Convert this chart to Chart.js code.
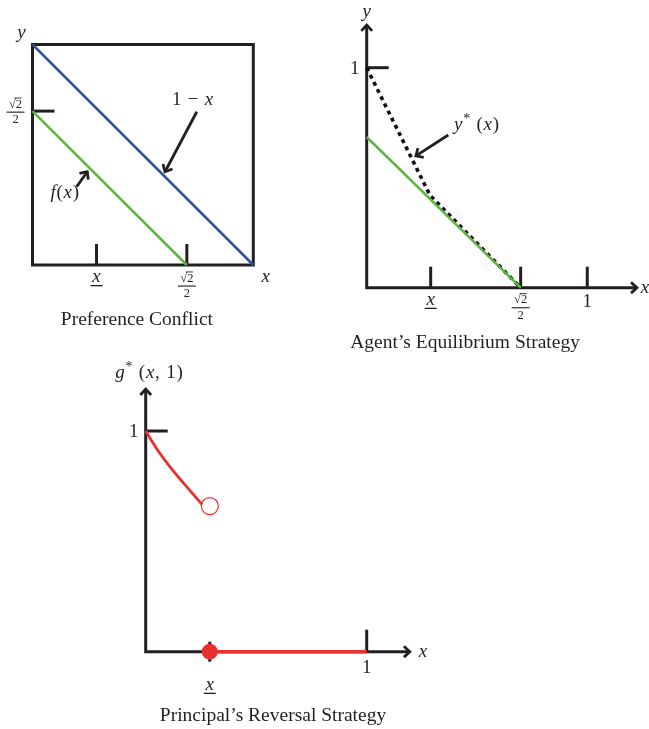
<!DOCTYPE html>
<html>
<head>
<meta charset="utf-8">
<script src="https://cdn.jsdelivr.net/npm/chart.js@4.4.1/dist/chart.umd.min.js"></script>
<style>
  body { margin: 0; background: #fff; }
  .wrap { position: relative; width: 649px; height: 729px; }
  .wrap canvas { position: absolute; left: 0; top: 0; }
</style>
</head>
<body>
<div class="wrap">
  <canvas id="conflict" width="649" height="729"></canvas>
  <canvas id="agent" width="649" height="729"></canvas>
  <canvas id="reversal" width="649" height="729"></canvas>
</div>
<script>
// Preference Conflict
const conflictX = [0, 1];
const oneMinusX = [1, 0];
const prefFX = [0, 0.699];
const prefFY = [0.698, 0];
const conflictTicksX = [0.29, 0.699];
const conflictTickLabelsX = ['_x', '√2/2'];
const conflictTicksY = [0.698];
const conflictTickLabelsY = ['√2/2'];

// Agent's Equilibrium Strategy
const agentFX = [0, 0.698];
const agentFY = [0.685, 0];
const agentStarX = [0, 0.287, 0.698];
const agentStarY = [1, 0.42, 0];
const agentTicksX = [0.29, 0.698, 1];
const agentTickLabelsX = ['_x', '√2/2', '1'];
const agentTicksY = [1];
const agentTickLabelsY = ['1'];

// Principal's Reversal Strategy
const reversalX = [0, 0.055, 0.11, 0.185, 0.255];
const reversalY = [1, 0.912, 0.838, 0.748, 0.667];
const reversalOpenX = [0.29];
const reversalOpenY = [0.66];
const reversalLowX = [0.29, 1];
const reversalLowY = [0, 0];
const reversalTicksX = [0.29, 1];
const reversalTickLabelsX = ['_x', '1'];
const reversalTicksY = [1];
const reversalTickLabelsY = ['1'];

const SERIF = '"Liberation Serif", "DejaVu Serif", serif';
const INK = '#231f20';
const BLUE = '#33509e';
const GREEN = '#5cb543';
const RED = '#e8312e';

const pts = (xs, ys) => xs.map((x, i) => ({x, y: ys[i]}));

// letters in italic, ^c as superscript, everything else upright
function mathText(ctx, str, cx, cy, size) {
  const gap = size * 0.04;
  const parts = [];
  for (let i = 0; i < str.length; i++) {
    const c = str[i];
    if (c === '^') { parts.push({t: str[++i], sup: true}); continue; }
    parts.push({t: c, it: /[a-z]/.test(c)});
  }
  const fontOf = p => (p.it ? 'italic ' : '') + (p.sup ? Math.round(size * 0.72) : size) + 'px ' + SERIF;
  let w = 0;
  parts.forEach(p => { ctx.font = fontOf(p); p.w = ctx.measureText(p.t).width; w += p.w; });
  w += gap * (parts.length - 1);
  let x = cx - w / 2;
  ctx.textAlign = 'left';
  ctx.textBaseline = 'middle';
  parts.forEach(p => {
    ctx.font = fontOf(p);
    ctx.fillText(p.t, x, p.sup ? cy - size * 0.3 : cy);
    x += p.w + gap;
  });
}

function tickLabel(ctx, lab, cx, cy) {
  ctx.fillStyle = INK;
  if (lab === '_x') {
    mathText(ctx, 'x', cx, cy, 19);
    ctx.fillRect(cx - 6, cy + 8, 12, 1.3);
  } else if (lab === '√2/2') {
    ctx.font = '12.5px ' + SERIF;
    ctx.textAlign = 'center';
    ctx.textBaseline = 'middle';
    ctx.fillText('√2', cx, cy - 7.5);
    ctx.fillRect(cx - 1, cy - 14.5, 7, 0.9);
    ctx.fillRect(cx - 9, cy - 0.5, 18, 1.1);
    ctx.fillText('2', cx, cy + 8);
  } else {
    mathText(ctx, lab, cx, cy, 19);
  }
}

function arrowHead(ctx, x, y, ang, len) {
  ctx.beginPath();
  ctx.moveTo(x + len * Math.cos(ang + 2.4), y + len * Math.sin(ang + 2.4));
  ctx.lineTo(x, y);
  ctx.lineTo(x + len * Math.cos(ang - 2.4), y + len * Math.sin(ang - 2.4));
  ctx.stroke();
}

// frame, axes, ticks underneath the curves; text and pointers on top
const sketch = {
  id: 'sketch',
  beforeDatasetsDraw(chart, args, o) {
    const {ctx} = chart;
    const xs = chart.scales.x, ys = chart.scales.y;
    const X = v => xs.getPixelForValue(v), Y = v => ys.getPixelForValue(v);
    ctx.save();
    ctx.strokeStyle = INK;
    ctx.lineWidth = 3;
    ctx.lineJoin = 'miter';
    if (o.box) {
      ctx.strokeRect(X(0), Y(1), X(1) - X(0), Y(0) - Y(1));
    } else {
      ctx.beginPath();
      ctx.moveTo(X(0), Y(ys.max) + 1);
      ctx.lineTo(X(0), Y(0));
      ctx.lineTo(X(xs.max) - 1, Y(0));
      ctx.stroke();
      ctx.lineWidth = 2.8;
      arrowHead(ctx, X(xs.max), Y(0), 0, 8);
      arrowHead(ctx, X(0), Y(ys.max), -Math.PI / 2, 8);
    }
    ctx.lineWidth = 3;
    o.xTicks.forEach(t => {
      ctx.beginPath();
      ctx.moveTo(X(t.v), Y(0) + (t.down || 0));
      ctx.lineTo(X(t.v), Y(0) - t.up);
      ctx.stroke();
    });
    o.yTicks.forEach(t => {
      ctx.beginPath();
      ctx.moveTo(X(0), Y(t.v));
      ctx.lineTo(X(0) + 22, Y(t.v));
      ctx.stroke();
    });
    ctx.restore();
  },
  afterDatasetsDraw(chart, args, o) {
    const {ctx} = chart;
    const xs = chart.scales.x, ys = chart.scales.y;
    const X = v => xs.getPixelForValue(v), Y = v => ys.getPixelForValue(v);
    ctx.save();
    ctx.fillStyle = INK;
    ctx.strokeStyle = INK;
    o.xTicks.forEach(t => tickLabel(ctx, t.label, X(t.v), Y(0) + t.dy));
    o.yTicks.forEach(t => tickLabel(ctx, t.label, X(0) - t.dx, Y(t.v) + 1));
    o.notes.forEach(n => mathText(ctx, n.text, X(n.x), Y(n.y), n.size || 19));
    ctx.lineWidth = 2.8;
    ctx.lineCap = 'butt';
    o.pointers.forEach(p => {
      const x0 = X(p.from[0]), y0 = Y(p.from[1]), x1 = X(p.to[0]), y1 = Y(p.to[1]);
      ctx.beginPath();
      ctx.moveTo(x0, y0);
      ctx.lineTo(x1, y1);
      ctx.stroke();
      arrowHead(ctx, x1, y1, Math.atan2(y1 - y0, x1 - x0), 8);
    });
    ctx.font = '19.5px ' + SERIF;
    ctx.textAlign = 'center';
    ctx.textBaseline = 'middle';
    ctx.fillText(o.title.text, X(o.title.x), Y(o.title.y));
    ctx.restore();
  }
};

function makeChart(id, datasets, range, padding, sketchOpts) {
  return new Chart(document.getElementById(id), {
    type: 'scatter',
    data: {datasets},
    options: {
      responsive: false,
      animation: false,
      events: [],
      layout: {padding},
      scales: {
        x: {type: 'linear', min: 0, max: range[0], display: false},
        y: {type: 'linear', min: 0, max: range[1], display: false}
      },
      plugins: {legend: {display: false}, tooltip: {enabled: false}, sketch: sketchOpts}
    },
    plugins: [sketch]
  });
}

const lineSet = (data, color, width, extra) => Object.assign({
  data, showLine: true, borderColor: color, borderWidth: width,
  pointRadius: 0, clip: false, fill: false
}, extra || {});

makeChart('conflict', [
  lineSet(pts(conflictX, oneMinusX), BLUE, 2.5),
  lineSet(pts(prefFX, prefFY), GREEN, 2.5)
], [1, 1], {left: 32.5, right: 395.7, top: 44.5, bottom: 464}, {
  box: true,
  xTicks: conflictTicksX.map((v, i) => ({v, label: conflictTickLabelsX[i], up: 21, dy: conflictTickLabelsX[i] === '_x' ? 12 : 21})),
  yTicks: conflictTicksY.map((v, i) => ({v, label: conflictTickLabelsY[i], dx: 17})),
  notes: [
    {text: 'y', x: -0.05, y: 1.05},
    {text: 'x', x: 1.056, y: -0.053},
    {text: '1 − x', x: 0.725, y: 0.748},
    {text: 'f(x)', x: 0.146, y: 0.327}
  ],
  pointers: [
    {from: [0.744, 0.695], to: [0.600, 0.423]},
    {from: [0.200, 0.355], to: [0.248, 0.423]}
  ],
  title: {text: 'Preference Conflict', x: 0.473, y: -0.249}
});

makeChart('agent', [
  lineSet(pts(agentFX, agentFY), GREEN, 2.5),
  lineSet(pts(agentStarX, agentStarY), '#111', 3.6, {borderDash: [4, 4]})
], [1.225, 1.194], {left: 366.7, right: 12.1, top: 25, bottom: 441.3}, {
  box: false,
  xTicks: agentTicksX.map((v, i) => ({v, label: agentTickLabelsX[i], up: 21, dy: agentTickLabelsX[i] === '_x' ? 12 : (agentTickLabelsX[i] === '1' ? 14 : 20)})),
  yTicks: agentTicksY.map((v, i) => ({v, label: agentTickLabelsY[i], dx: 12})),
  notes: [
    {text: 'y', x: 0, y: 1.253},
    {text: 'x', x: 1.262, y: 0},
    {text: 'y^* (x)', x: 0.498, y: 0.74}
  ],
  pointers: [
    {from: [0.370, 0.694], to: [0.223, 0.599]}
  ],
  title: {text: 'Agent’s Equilibrium Strategy', x: 0.446, y: -0.251}
});

makeChart('reversal', [
  lineSet(pts(reversalX, reversalY), RED, 2.8, {tension: 0.35}),
  lineSet(pts(reversalLowX, reversalLowY), RED, 3.4),
  {data: pts(reversalOpenX, reversalOpenY), pointRadius: 8.5,
   pointBackgroundColor: '#fff', pointBorderColor: RED, pointBorderWidth: 1.2, clip: false},
  {data: [{x: reversalLowX[0], y: reversalLowY[0]}], pointRadius: 8,
   pointBackgroundColor: RED, pointBorderColor: RED, pointBorderWidth: 0, clip: false}
], [1.195, 1.19], {left: 145.7, right: 239.2, top: 389.1, bottom: 77.3}, {
  box: false,
  xTicks: reversalTicksX.map((v, i) => ({v, label: reversalTickLabelsX[i],
    up: reversalTickLabelsX[i] === '_x' ? 10 : 22, down: reversalTickLabelsX[i] === '_x' ? 10 : 0,
    dy: reversalTickLabelsX[i] === '_x' ? 33 : 16})),
  yTicks: reversalTicksY.map((v, i) => ({v, label: reversalTickLabelsY[i], dx: 12})),
  notes: [
    {text: 'g^* (x, 1)', x: 0.015, y: 1.263},
    {text: 'x', x: 1.255, y: 0}
  ],
  pointers: [],
  title: {text: 'Principal’s Reversal Strategy', x: 0.576, y: -0.293}
});
</script>
</body>
</html>
